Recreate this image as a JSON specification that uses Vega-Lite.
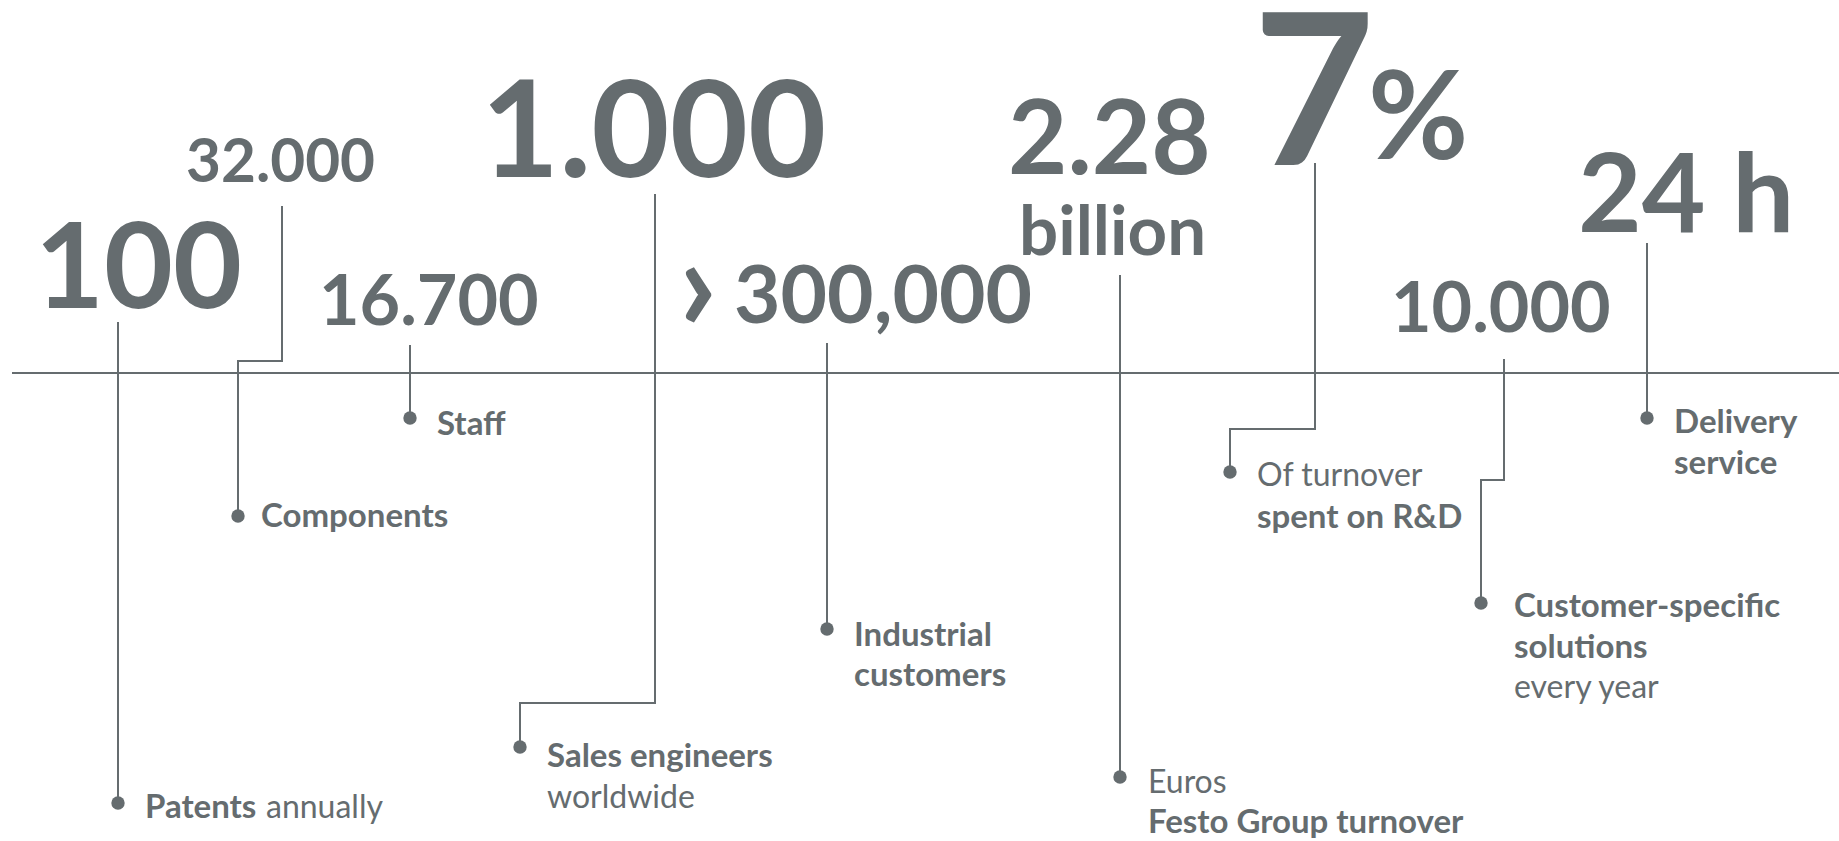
{
  "$schema": "https://vega.github.io/schema/vega-lite/v6.json",
  "width": 1839,
  "height": 841,
  "autosize": "none",
  "padding": 0,
  "background": "#ffffff",
  "config": {"view": {"stroke": null}},
  "datasets": {
    "connectors": [
      {"id": "axis", "step": 1, "x": 12, "y": 373}, {"id": "axis", "step": 2, "x": 1839, "y": 373},
      {"id": "patents", "step": 1, "x": 118, "y": 322}, {"id": "patents", "step": 2, "x": 118, "y": 803},
      {"id": "components", "step": 1, "x": 282, "y": 206}, {"id": "components", "step": 2, "x": 282, "y": 361}, {"id": "components", "step": 3, "x": 238, "y": 361}, {"id": "components", "step": 4, "x": 238, "y": 516},
      {"id": "staff", "step": 1, "x": 410, "y": 345}, {"id": "staff", "step": 2, "x": 410, "y": 418},
      {"id": "sales", "step": 1, "x": 655, "y": 194}, {"id": "sales", "step": 2, "x": 655, "y": 703}, {"id": "sales", "step": 3, "x": 520, "y": 703}, {"id": "sales", "step": 4, "x": 520, "y": 747},
      {"id": "customers", "step": 1, "x": 827, "y": 343}, {"id": "customers", "step": 2, "x": 827, "y": 629},
      {"id": "turnover", "step": 1, "x": 1120, "y": 275}, {"id": "turnover", "step": 2, "x": 1120, "y": 777},
      {"id": "rd", "step": 1, "x": 1315, "y": 163}, {"id": "rd", "step": 2, "x": 1315, "y": 429}, {"id": "rd", "step": 3, "x": 1230, "y": 429}, {"id": "rd", "step": 4, "x": 1230, "y": 472},
      {"id": "solutions", "step": 1, "x": 1504, "y": 359}, {"id": "solutions", "step": 2, "x": 1504, "y": 480}, {"id": "solutions", "step": 3, "x": 1481, "y": 480}, {"id": "solutions", "step": 4, "x": 1481, "y": 603},
      {"id": "delivery", "step": 1, "x": 1647, "y": 243}, {"id": "delivery", "step": 2, "x": 1647, "y": 418}
    ],
    "dots": [
      {"id": "patents", "x": 118, "y": 803},
      {"id": "components", "x": 238, "y": 516},
      {"id": "staff", "x": 410, "y": 418},
      {"id": "sales", "x": 520, "y": 747},
      {"id": "customers", "x": 827, "y": 629},
      {"id": "turnover", "x": 1120, "y": 777},
      {"id": "rd", "x": 1230, "y": 472},
      {"id": "solutions", "x": 1481, "y": 603},
      {"id": "delivery", "x": 1647, "y": 418}
    ],
    "figures": [
      {"label": "100", "x": 35, "y": 308, "emphasis": 0.476},
      {"label": "32.000", "x": 186, "y": 182, "emphasis": 0.241},
      {"label": "16.700", "x": 319, "y": 325, "emphasis": 0.28},
      {"label": "1.000", "x": 481, "y": 177, "emphasis": 0.54},
      {"label": "›", "x": 678, "y": 331, "emphasis": 0.54},
      {"label": "300,000", "x": 734, "y": 323, "emphasis": 0.321},
      {"label": "2.28", "x": 1008, "y": 174, "emphasis": 0.41},
      {"label": "billion", "x": 1019, "y": 255, "emphasis": 0.276},
      {"label": "7", "x": 1253, "y": 165, "emphasis": 0.84},
      {"label": "%", "x": 1368, "y": 159, "emphasis": 0.49},
      {"label": "10.000", "x": 1391, "y": 332, "emphasis": 0.28},
      {"label": "24 h", "x": 1578, "y": 232, "emphasis": 0.44}
    ],
    "strong": [
      {"label": "Patents", "x": 145, "y": 818},
      {"label": "Components", "x": 261, "y": 527},
      {"label": "Staff", "x": 437, "y": 435},
      {"label": "Sales engineers", "x": 547, "y": 767},
      {"label": "Industrial", "x": 854, "y": 646},
      {"label": "customers", "x": 854, "y": 686},
      {"label": "Festo Group turnover", "x": 1148, "y": 833},
      {"label": "spent on R&D", "x": 1257, "y": 528},
      {"label": "Customer-specific", "x": 1514, "y": 617},
      {"label": "solutions", "x": 1514, "y": 658},
      {"label": "Delivery", "x": 1674, "y": 433},
      {"label": "service", "x": 1674, "y": 474}
    ],
    "light": [
      {"label": "annually", "x": 266, "y": 818},
      {"label": "worldwide", "x": 547, "y": 808},
      {"label": "Euros", "x": 1148, "y": 793},
      {"label": "Of turnover", "x": 1257, "y": 486},
      {"label": "every year", "x": 1514, "y": 698}
    ]
  },
  "layer": [
    {
      "data": {"name": "connectors"},
      "mark": {"type": "line", "stroke": "#656c6f", "strokeWidth": 2, "strokeJoin": "miter", "strokeCap": "butt"},
      "encoding": {
        "x": {"field": "x", "type": "quantitative", "scale": {"domain": [0, 1839], "nice": false, "zero": false}, "axis": null},
        "y": {"field": "y", "type": "quantitative", "scale": {"domain": [0, 841], "nice": false, "zero": false, "reverse": true}, "axis": null},
        "detail": {"field": "id", "type": "nominal"},
        "order": {"field": "step", "type": "quantitative"}
      }
    },
    {
      "data": {"name": "dots"},
      "mark": {"type": "circle", "size": 180, "opacity": 1, "color": "#656c6f"},
      "encoding": {
        "x": {"field": "x", "type": "quantitative", "scale": {"domain": [0, 1839], "nice": false, "zero": false}, "axis": null},
        "y": {"field": "y", "type": "quantitative", "scale": {"domain": [0, 841], "nice": false, "zero": false, "reverse": true}, "axis": null}
      }
    },
    {
      "data": {"name": "figures"},
      "mark": {"type": "text", "align": "left", "baseline": "alphabetic", "font": "Lato", "fontWeight": "bold", "color": "#656c6f"},
      "encoding": {
        "x": {"field": "x", "type": "quantitative", "scale": {"domain": [0, 1839], "nice": false, "zero": false}, "axis": null},
        "y": {"field": "y", "type": "quantitative", "scale": {"domain": [0, 841], "nice": false, "zero": false, "reverse": true}, "axis": null},
        "text": {"field": "label", "type": "nominal"},
        "size": {"field": "emphasis", "type": "quantitative", "scale": {"type": "linear", "domain": [0, 1], "range": [0, 250], "zero": true}, "legend": null}
      }
    },
    {
      "data": {"name": "strong"},
      "mark": {"type": "text", "align": "left", "baseline": "alphabetic", "font": "Lato", "fontWeight": "bold", "fontSize": 33, "color": "#656c6f"},
      "encoding": {
        "x": {"field": "x", "type": "quantitative", "scale": {"domain": [0, 1839], "nice": false, "zero": false}, "axis": null},
        "y": {"field": "y", "type": "quantitative", "scale": {"domain": [0, 841], "nice": false, "zero": false, "reverse": true}, "axis": null},
        "text": {"field": "label", "type": "nominal"}
      }
    },
    {
      "data": {"name": "light"},
      "mark": {"type": "text", "align": "left", "baseline": "alphabetic", "font": "Lato", "fontWeight": "normal", "fontSize": 32, "color": "#656c6f"},
      "encoding": {
        "x": {"field": "x", "type": "quantitative", "scale": {"domain": [0, 1839], "nice": false, "zero": false}, "axis": null},
        "y": {"field": "y", "type": "quantitative", "scale": {"domain": [0, 841], "nice": false, "zero": false, "reverse": true}, "axis": null},
        "text": {"field": "label", "type": "nominal"}
      }
    }
  ]
}
